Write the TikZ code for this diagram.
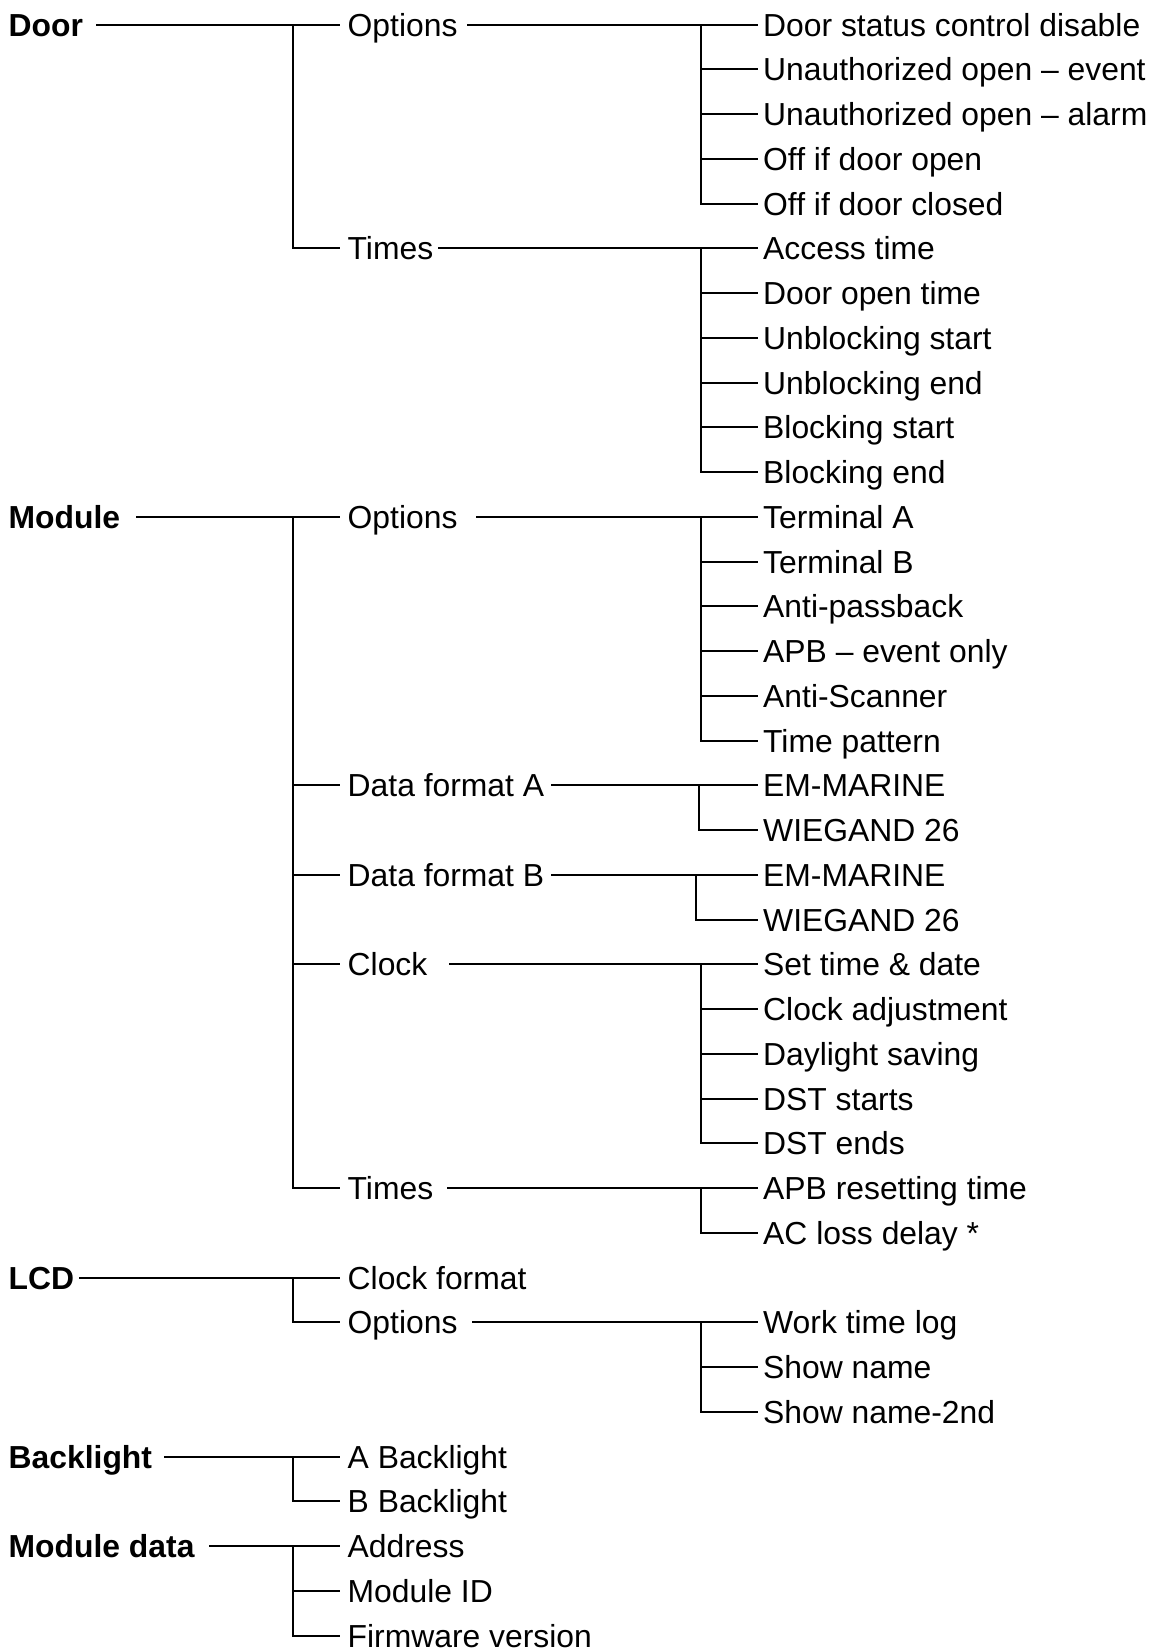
\documentclass[tikz,border=0pt]{standalone}
\usepackage{fontspec}
\setmainfont{Liberation Sans}
\newcommand\fs{\fontsize{31.85}{36}\selectfont}
\newcommand\tbranch[7]{%
  \draw[link] ([xshift=#3]#2.east) -- ([xshift=-#7]#4.west);
  \draw[link] (#2.east -| #1) |- ([xshift=-#7]#5.west);
  \foreach \ch in {#6} {\draw[link] (\ch.west -| #1) -- ([xshift=-#7]\ch.west);}
}
\begin{document}
\begin{tikzpicture}[x=1pt,y=-1pt,
  lvl/.style={anchor=west, inner sep=0pt, text height=30pt, text depth=7pt, font=\fs},
  topl/.style={lvl, font=\fs\bfseries},
  link/.style={line width=2pt, line cap=rect}]
\useasboundingbox (0,0) rectangle (1153,1652);
\def\ra{8.5}\def\rb{347.5}\def\rc{763}
\def\y#1{{24.5+44.75*#1}}
\coordinate (vA) at (293,0);
\coordinate (vB) at (701,0);
\coordinate (vDA) at (699,0);
\coordinate (vDB) at (696,0);
% level 0
\node[topl] (door) at (\ra,\y{0}) {Door};
\node[topl] (module) at (\ra,\y{11}) {Module};
\node[topl] (lcd) at (\ra,\y{28}) {LCD};
\node[topl] (back) at (\ra,\y{32}) {Backlight};
\node[topl] (mdata) at (\ra,\y{34}) {Module data};
% level 1
\node[lvl] (dopt) at (\rb,\y{0}) {Options};
\node[lvl] (dtim) at (\rb,\y{5}) {Times};
\node[lvl] (mopt) at (\rb,\y{11}) {Options};
\node[lvl] (dfa) at (\rb,\y{17}) {Data format A};
\node[lvl] (dfb) at (\rb,\y{19}) {Data format B};
\node[lvl] (clk) at (\rb,\y{21}) {Clock};
\node[lvl] (mtim) at (\rb,\y{26}) {Times};
\node[lvl] (cfmt) at (\rb,\y{28}) {Clock format};
\node[lvl] (lopt) at (\rb,\y{29}) {Options};
\node[lvl] (ab) at (\rb,\y{32}) {A Backlight};
\node[lvl] (bb) at (\rb,\y{33}) {B Backlight};
\node[lvl] (addr) at (\rb,\y{34}) {Address};
\node[lvl] (mid) at (\rb,\y{35}) {Module ID};
\node[lvl] (fw) at (\rb,\y{36}) {Firmware version};
% level 2
\node[lvl] (c0) at (\rc,\y{0}) {Door status control disable};
\node[lvl] (c1) at (\rc,\y{1}) {Unauthorized open – event};
\node[lvl] (c2) at (\rc,\y{2}) {Unauthorized open – alarm};
\node[lvl] (c3) at (\rc,\y{3}) {Off if door open};
\node[lvl] (c4) at (\rc,\y{4}) {Off if door closed};
\node[lvl] (c5) at (\rc,\y{5}) {Access time};
\node[lvl] (c6) at (\rc,\y{6}) {Door open time};
\node[lvl] (c7) at (\rc,\y{7}) {Unblocking start};
\node[lvl] (c8) at (\rc,\y{8}) {Unblocking end};
\node[lvl] (c9) at (\rc,\y{9}) {Blocking start};
\node[lvl] (c10) at (\rc,\y{10}) {Blocking end};
\node[lvl] (c11) at (\rc,\y{11}) {Terminal A};
\node[lvl] (c12) at (\rc,\y{12}) {Terminal B};
\node[lvl] (c13) at (\rc,\y{13}) {Anti-passback};
\node[lvl] (c14) at (\rc,\y{14}) {APB – event only};
\node[lvl] (c15) at (\rc,\y{15}) {Anti-Scanner};
\node[lvl] (c16) at (\rc,\y{16}) {Time pattern};
\node[lvl] (c17) at (\rc,\y{17}) {EM-MARINE};
\node[lvl] (c18) at (\rc,\y{18}) {WIEGAND 26};
\node[lvl] (c19) at (\rc,\y{19}) {EM-MARINE};
\node[lvl] (c20) at (\rc,\y{20}) {WIEGAND 26};
\node[lvl] (c21) at (\rc,\y{21}) {Set time \& date};
\node[lvl] (c22) at (\rc,\y{22}) {Clock adjustment};
\node[lvl] (c23) at (\rc,\y{23}) {Daylight saving};
\node[lvl] (c24) at (\rc,\y{24}) {DST starts};
\node[lvl] (c25) at (\rc,\y{25}) {DST ends};
\node[lvl] (c26) at (\rc,\y{26}) {APB resetting time};
\node[lvl] (c27) at (\rc,\y{27}) {AC loss delay *};
\node[lvl] (c29) at (\rc,\y{29}) {Work time log};
\node[lvl] (c30) at (\rc,\y{30}) {Show name};
\node[lvl] (c31) at (\rc,\y{31}) {Show name-2nd};
% connectors level 0 -> 1
\tbranch{vA}{door}{14pt}{dopt}{dtim}{dopt}{8.5pt}
\tbranch{vA}{module}{16.5pt}{mopt}{mtim}{mopt,dfa,dfb,clk}{8.5pt}
\tbranch{vA}{lcd}{6pt}{cfmt}{lopt}{cfmt}{8.5pt}
\tbranch{vA}{back}{13pt}{ab}{bb}{ab}{8.5pt}
\tbranch{vA}{mdata}{15.5pt}{addr}{fw}{addr,mid}{8.5pt}
% connectors level 1 -> 2
\tbranch{vB}{dopt}{10pt}{c0}{c4}{c0,c1,c2,c3}{6pt}
\tbranch{vB}{dtim}{6pt}{c5}{c10}{c5,c6,c7,c8,c9}{6pt}
\tbranch{vB}{mopt}{19pt}{c11}{c16}{c11,c12,c13,c14,c15}{6pt}
\tbranch{vDA}{dfa}{8pt}{c17}{c18}{c17}{6pt}
\tbranch{vDB}{dfb}{8pt}{c19}{c20}{c19}{6pt}
\tbranch{vB}{clk}{22pt}{c21}{c25}{c21,c22,c23,c24}{6pt}
\tbranch{vB}{mtim}{15pt}{c26}{c27}{c26}{6pt}
\tbranch{vB}{lopt}{15pt}{c29}{c31}{c29,c30}{6pt}
\end{tikzpicture}
\end{document}
